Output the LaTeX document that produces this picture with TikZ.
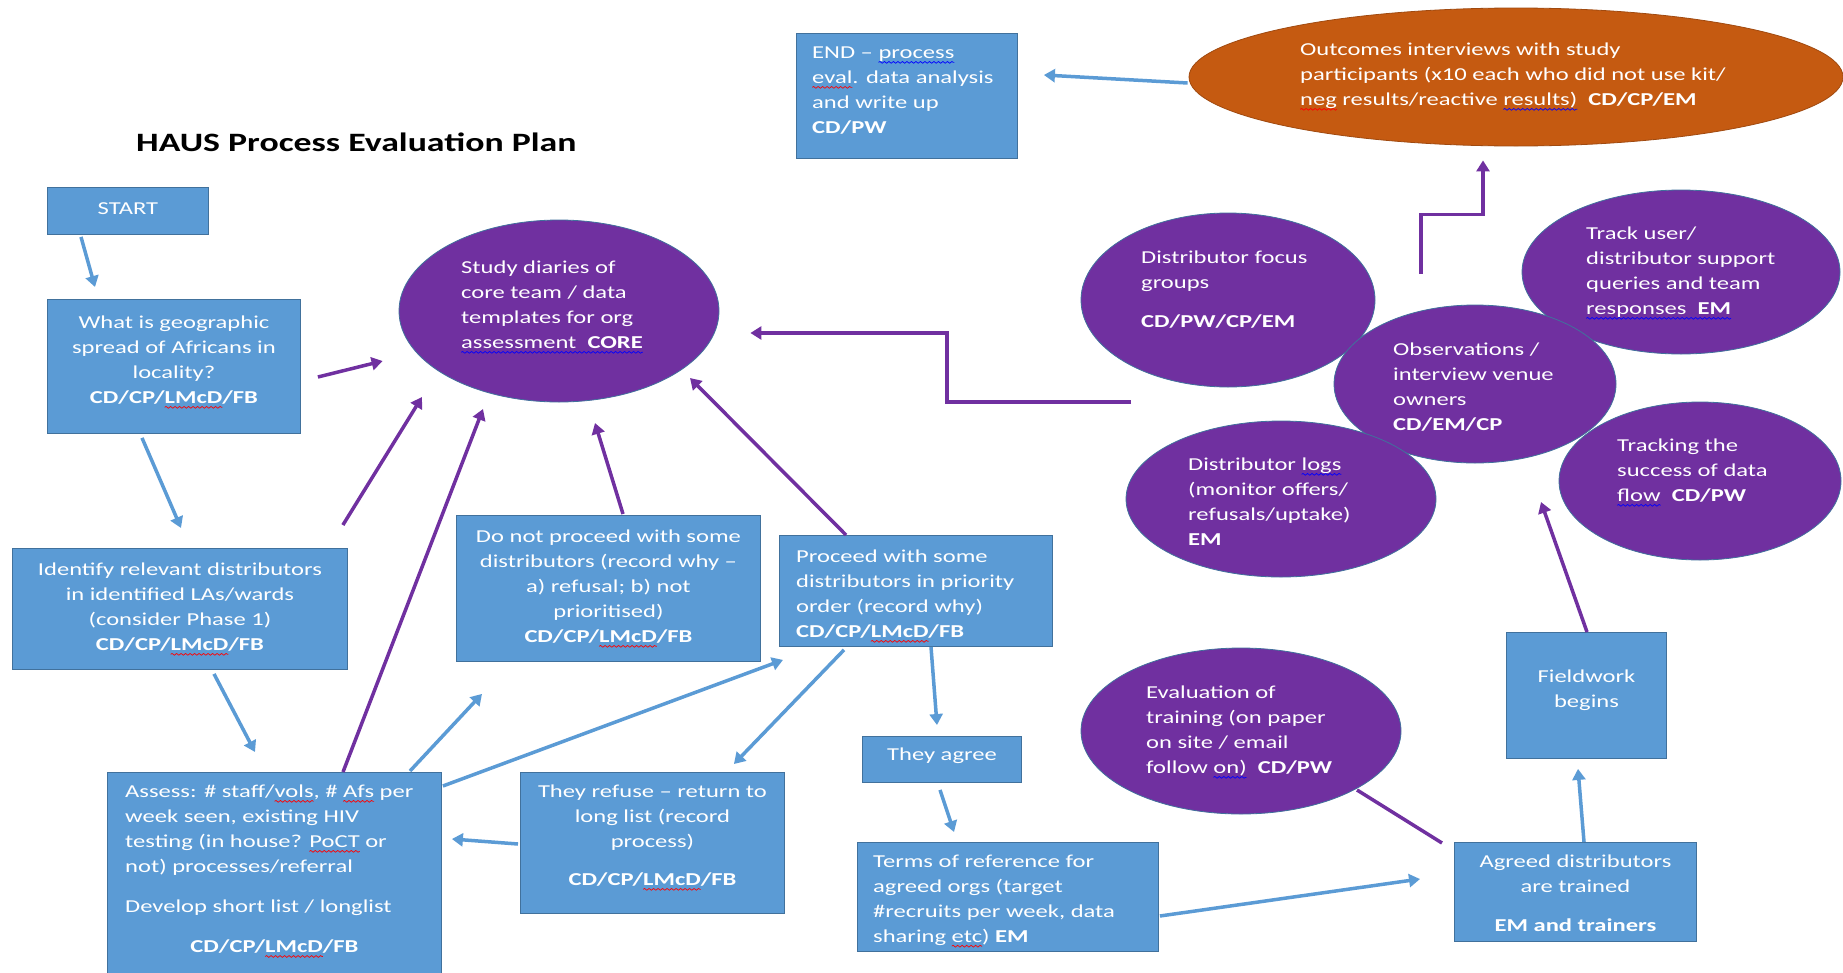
\documentclass[tikz,border=0pt]{standalone}
\usepackage{fontspec}
\setmainfont{Carlito}[FakeStretch=1.35]
\usetikzlibrary{shapes.geometric,arrows.meta,calc,decorations.pathmorphing}
\definecolor{boxblue}{HTML}{5B9BD5}
\definecolor{boxedge}{HTML}{41719C}
\definecolor{blobpurple}{HTML}{7030A0}
\definecolor{blobedge}{HTML}{41719C}
\definecolor{outorange}{HTML}{C55A11}
\definecolor{outedge}{HTML}{A04A10}
\newdimen\sqw
\newcommand\sqline[2]{\settowidth\sqw{#2}\tikz[baseline=0pt,overlay]\draw[#1,line width=0.7pt,decorate,decoration={snake,amplitude=0.9pt,segment length=4.5pt}] (0pt,-4pt) -- (\sqw,-4pt);#2}
\newcommand\rsq[1]{\sqline{red}{#1}}
\newcommand\bsq[1]{\sqline{blue}{#1}}
\tikzset{
  box/.style={draw=boxedge, fill=boxblue, line width=0.9pt, anchor=north west, inner sep=0pt},
  blob/.style={ellipse, draw=blobedge, fill=blobpurple, line width=0.8pt, inner sep=0pt},
  txt/.style={text=white, font=\fontsize{18.2}{25}\selectfont, inner sep=0pt, align=left, anchor=north west, yshift=-2.5pt},
  ctxt/.style={txt, align=center, anchor=north},
  headline/.style={text=black, font=\fontsize{26.5}{30}\selectfont\bfseries, inner sep=0pt, anchor=west},
  barrow/.style={draw=boxblue, line width=3.5pt, -{Triangle[length=11pt,width=13pt]}},
  parrow/.style={draw=blobpurple, line width=3.5pt, -{Triangle[length=11pt,width=13pt]}},
  pline/.style={draw=blobpurple, line width=3.5pt}
}
\begin{document}
\begin{tikzpicture}[x=1pt,y=-1pt]
\useasboundingbox (0,0) rectangle (1843,972);
\node[headline] (title) at (136,142) {HAUS Process Evaluation Plan};
% boxes
\node[box,minimum width=161pt,minimum height=47pt] (start) at (47,187) {};
\node[box,minimum width=253pt,minimum height=134pt] (geo) at (47,299) {};
\node[box,minimum width=335pt,minimum height=121pt] (ident) at (12,548) {};
\node[box,minimum width=334pt,minimum height=210pt] (assess) at (107,772) {};
\node[box,minimum width=304pt,minimum height=146pt] (dnp) at (456,515) {};
\node[box,minimum width=273pt,minimum height=111pt] (proc) at (779,535) {};
\node[box,minimum width=264pt,minimum height=141pt] (refuse) at (520,772) {};
\node[box,minimum width=159pt,minimum height=46pt] (agree) at (862,736) {};
\node[box,minimum width=301pt,minimum height=109pt] (tor) at (857,842) {};
\node[box,minimum width=242pt,minimum height=99pt] (trained) at (1454,842) {};
\node[box,minimum width=160pt,minimum height=126pt] (field) at (1506,632) {};
\node[box,minimum width=221pt,minimum height=125pt] (endb) at (796,33) {};
% ellipses
\node[blob,minimum width=320pt,minimum height=182pt] (study) at (559,311) {};
\node[blob,fill=outorange,draw=outedge,minimum width=654pt,minimum height=138pt] (outcome) at (1516,77) {};
\node[blob,minimum width=294pt,minimum height=174pt] (focus) at (1228,300) {};
\node[blob,minimum width=318pt,minimum height=164pt] (track) at (1681,272) {};
\node[blob,minimum width=282pt,minimum height=158pt] (obs) at (1475,384) {};
\node[blob,minimum width=310pt,minimum height=156pt] (logs) at (1281,499) {};
\node[blob,minimum width=282pt,minimum height=158pt] (trackf) at (1700,481) {};
\node[blob,minimum width=320pt,minimum height=166pt] (evalt) at (1241,731) {};
% texts
\node[ctxt] (start-t) at ($(start.north)+(0,13)$) {START};
\node[ctxt] (geo-t) at ($(geo.north)+(0,14)$) {What is geographic\\spread of Africans in\\locality?\\\textbf{CD/CP/\rsq{LMcD}/FB}};
\node[ctxt] (ident-t) at ($(ident.north)+(0,12)$) {Identify relevant distributors\\in identified LAs/wards\\(consider Phase 1)\\\textbf{CD/CP/\rsq{LMcD}/FB}};
\node[txt] (assess-t) at ($(assess.north west)+(18,10)$) {Assess: \# staff/\rsq{vols}, \# \rsq{Afs} per\\week seen, existing HIV\\testing (in house? \rsq{PoCT} or\\not) processes/referral\\[15pt]Develop short list / longlist};
\node[ctxt] (assess-w) at ($(assess.north)+(0,165)$) {\textbf{CD/CP/\rsq{LMcD}/FB}};
\node[ctxt] (dnp-t) at ($(dnp.north)+(0,12)$) {Do not proceed with some\\distributors (record why --\\a) refusal; b) not\\prioritised)\\\textbf{CD/CP/\rsq{LMcD}/FB}};
\node[txt] (proc-t) at ($(proc.north west)+(17,12)$) {Proceed with some\\distributors in priority\\order (record why)\\\textbf{CD/CP/\rsq{LMcD}/FB}};
\node[ctxt] (refuse-t) at ($(refuse.north)+(0,10)$) {They refuse -- return to\\long list (record\\process)\\[13pt]\textbf{CD/CP/\rsq{LMcD}/FB}};
\node[ctxt] (agree-t) at ($(agree.north)+(0,9)$) {They agree};
\node[txt] (tor-t) at ($(tor.north west)+(16,10)$) {Terms of reference for\\agreed orgs (target\\\#recruits per week, data\\sharing \rsq{etc}) \textbf{EM}};
\node[ctxt] (trained-t) at ($(trained.north)+(0,10)$) {Agreed distributors\\are trained\\[14pt]\textbf{EM and trainers}};
\node[ctxt] (field-t) at ($(field.north)+(0,35)$) {Fieldwork\\begins};
\node[txt] (endb-t) at ($(endb.north west)+(16,11)$) {END -- \bsq{process}\\\rsq{eval}. data analysis\\and write up\\\textbf{CD/PW}};
\node[txt] (study-t) at ($(study)+(-98,-53)$) {Study diaries of\\core team / data\\templates for org\\\bsq{assessment\ \ \textbf{CORE}}};
\node[txt] (outcome-t) at ($(outcome)+(-216,-37)$) {Outcomes interviews with study\\participants (x10 each who did not use kit/\\\rsq{neg} results/reactive \bsq{results)}\ \ \textbf{CD/CP/EM}};
\node[txt] (focus-t) at ($(focus)+(-87,-52)$) {Distributor focus\\groups\\[14pt]\textbf{CD/PW/CP/EM}};
\node[txt] (track-t) at ($(track)+(-95,-48)$) {Track user/\\distributor support\\queries and team\\\bsq{responses\ \ \textbf{EM}}};
\node[txt] (obs-t) at ($(obs)+(-82,-44)$) {Observations /\\interview venue\\owners\\\textbf{CD/EM/CP}};
\node[txt] (logs-t) at ($(logs)+(-93,-44)$) {Distributor \bsq{logs}\\(monitor offers/\\refusals/uptake)\\\textbf{EM}};
\node[txt] (trackf-t) at ($(trackf)+(-83,-45)$) {Tracking the\\success of data\\\bsq{flow}\ \ \textbf{CD/PW}};
\node[txt] (evalt-t) at ($(evalt)+(-95,-48)$) {Evaluation of\\training (on paper\\on site / email\\follow \bsq{on)}\ \ \textbf{CD/PW}};
% blue arrows
\draw[barrow] ($(start.south west)+(34,2)$) -- ($(geo.north west)+(48,-12)$);
\draw[barrow] ($(geo.south west)+(95,4)$) -- ($(ident.north west)+(169,-20)$);
\draw[barrow] ($(ident.south west)+(202,4)$) -- ($(assess.north west)+(148,-20)$);
\draw[barrow] ($(assess.north west)+(303,-1)$) -- ($(dnp.south west)+(26,32)$);
\draw[barrow] ($(assess.north east)+(1,14)$) -- ($(proc.south west)+(4,13)$);
\draw[barrow] ($(proc.south west)+(65,3)$) -- ($(refuse.north east)+(-51,-8)$);
\draw[barrow] ($(refuse.north west)+(-2,72)$) -- ($(assess.north east)+(10,67)$);
\draw[barrow] ($(proc.south west)+(152,0)$) -- ($(agree.north west)+(75,-11)$);
\draw[barrow] ($(agree.south west)+(78,7)$) -- ($(tor.north west)+(97,-10)$);
\draw[barrow] ($(tor.north east)+(1,74)$) -- ($(trained.north west)+(-34,37)$);
\draw[barrow] ($(trained.north west)+(130,0)$) -- ($(field.south west)+(72,10)$);
\draw[barrow] ($(outcome.west)+(-1,6)$) -- ($(endb.north east)+(26,42)$);
% purple arrows
\draw[parrow] ($(geo.north east)+(17,78)$) -- ($(study.west)+(-16,50)$);
\draw[parrow] ($(ident.north east)+(-5,-23)$) -- ($(study)+(-137,86)$);
\draw[parrow] ($(assess.north west)+(236,0)$) -- ($(study)+(-76,98)$);
\draw[parrow] ($(dnp.north west)+(167,-1)$) -- ($(study)+(36,112)$);
\draw[parrow] ($(proc.north west)+(67,0)$) -- ($(study)+(131,67)$);
\draw[parrow] ($(focus)+(-97,102)$) -- ++(-184,0) |- ($(study.east)+(31,22)$);
\draw[parrow] ($(obs.north)+(-54,-31)$) -- ++(0,-59) -| ($(outcome.south)+(-33,14)$);
\draw[parrow] ($(field.north west)+(81,0)$) -- ($(trackf)+(-159,21)$);
\draw[pline] ($(trained.north west)+(-12,1)$) -- ($(evalt)+(116,59)$);
\end{tikzpicture}
\end{document}
